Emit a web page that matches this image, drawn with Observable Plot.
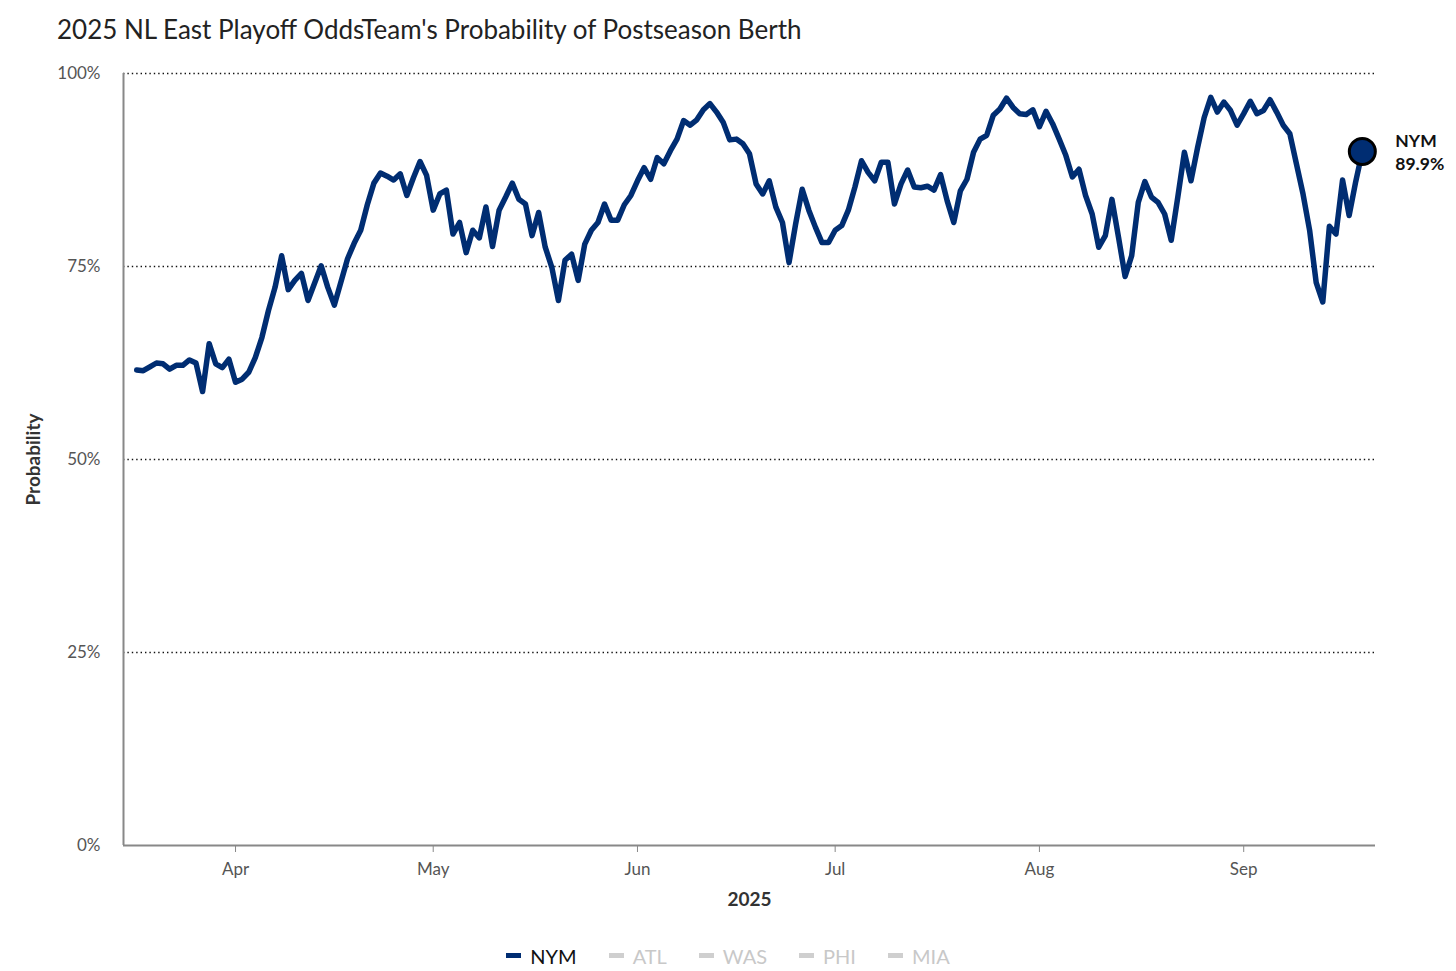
<!DOCTYPE html>
<html>
<head>
<meta charset="utf-8">
<script src="https://cdn.jsdelivr.net/npm/d3@7"></script>
<script src="https://cdn.jsdelivr.net/npm/@observablehq/plot@0.6"></script>
<style>
  html, body { margin: 0; padding: 0; background: #fff; }
  body { width: 1456px; height: 971px; overflow: hidden; font-family: Lato, "Noto Sans", sans-serif; }
  #title { height: 50px; box-sizing: border-box; padding: 14px 0 0 57px; font-size: 26px; line-height: 30px; color: #222; white-space: nowrap; }
  #chart svg { display: block; }
  #legend { height: 41px; box-sizing: border-box; padding-top: 10px; display: flex; justify-content: center; align-items: center; gap: 32px; font-size: 20px; line-height: 22px; }
  .item { display: flex; align-items: center; gap: 9px; }
  .sw { width: 15px; height: 5px; display: inline-block; }
</style>
</head>
<body>
<div id="title">2025 NL East Playoff OddsTeam's Probability of Postseason Berth</div>
<div id="chart"></div>
<div id="legend"></div>
<script>
// ---- data ----
const titleText = "2025 NL East Playoff OddsTeam's Probability of Postseason Berth";
const teams = ["NYM", "ATL", "WAS", "PHI", "MIA"];
const activeTeam = "NYM";
const teamColor = "#002D72";
const yTicks = [0, 25, 50, 75, 100];
const xTickDates = ["2025-04-01", "2025-05-01", "2025-06-01", "2025-07-01", "2025-08-01", "2025-09-01"];
const xDomain = ["2025-03-15", "2025-09-21"];

const nymDates = [
  "2025-03-17","2025-03-18","2025-03-19","2025-03-20","2025-03-21","2025-03-22","2025-03-23","2025-03-24","2025-03-25","2025-03-26","2025-03-27","2025-03-28","2025-03-29","2025-03-30","2025-03-31",
  "2025-04-01","2025-04-02","2025-04-03","2025-04-04","2025-04-05","2025-04-06","2025-04-07","2025-04-08","2025-04-09","2025-04-10","2025-04-11","2025-04-12","2025-04-14","2025-04-15","2025-04-16","2025-04-18","2025-04-19","2025-04-20","2025-04-21","2025-04-22","2025-04-23","2025-04-24","2025-04-25","2025-04-26","2025-04-27","2025-04-28","2025-04-29","2025-04-30",
  "2025-05-01","2025-05-02","2025-05-03","2025-05-04","2025-05-05","2025-05-06","2025-05-07","2025-05-08","2025-05-09","2025-05-10","2025-05-11","2025-05-12","2025-05-13","2025-05-14","2025-05-15","2025-05-16","2025-05-17","2025-05-18","2025-05-19","2025-05-20","2025-05-21","2025-05-22","2025-05-23","2025-05-24","2025-05-25","2025-05-26","2025-05-27","2025-05-28","2025-05-29","2025-05-30","2025-05-31",
  "2025-06-01","2025-06-02","2025-06-03","2025-06-04","2025-06-05","2025-06-06","2025-06-07","2025-06-08","2025-06-09","2025-06-10","2025-06-11","2025-06-12","2025-06-13","2025-06-14","2025-06-15","2025-06-16","2025-06-17","2025-06-18","2025-06-19","2025-06-20","2025-06-21","2025-06-22","2025-06-23","2025-06-24","2025-06-25","2025-06-26","2025-06-27","2025-06-28","2025-06-29","2025-06-30",
  "2025-07-01","2025-07-02","2025-07-03","2025-07-04","2025-07-05","2025-07-06","2025-07-07","2025-07-08","2025-07-09","2025-07-10","2025-07-11","2025-07-12","2025-07-13","2025-07-14","2025-07-15","2025-07-16","2025-07-17","2025-07-18","2025-07-19","2025-07-20","2025-07-21","2025-07-22","2025-07-23","2025-07-24","2025-07-25","2025-07-26","2025-07-27","2025-07-28","2025-07-29","2025-07-30","2025-07-31",
  "2025-08-01","2025-08-02","2025-08-03","2025-08-04","2025-08-05","2025-08-06","2025-08-07","2025-08-08","2025-08-09","2025-08-10","2025-08-11","2025-08-12","2025-08-13","2025-08-14","2025-08-15","2025-08-16","2025-08-17","2025-08-18","2025-08-19","2025-08-20","2025-08-21","2025-08-22","2025-08-23","2025-08-24","2025-08-25","2025-08-26","2025-08-27","2025-08-28","2025-08-29","2025-08-30","2025-08-31",
  "2025-09-01","2025-09-02","2025-09-03","2025-09-04","2025-09-05","2025-09-06","2025-09-07","2025-09-08","2025-09-09","2025-09-10","2025-09-11","2025-09-12","2025-09-13","2025-09-14","2025-09-15","2025-09-16","2025-09-17","2025-09-18","2025-09-19"
];
const nymValues = [
  61.6,61.5,62.0,62.5,62.4,61.7,62.2,62.2,62.9,62.5,58.8,65.0,62.4,61.9,63.0,
  60.0,60.4,61.3,63.2,65.8,69.3,72.3,76.4,72.0,73.2,74.1,70.6,75.1,72.3,70.0,76.0,78.0,79.7,83.0,85.8,87.1,86.7,86.2,87.0,84.2,86.5,88.6,86.8,
  82.3,84.4,84.9,79.2,80.7,76.8,79.7,78.7,82.7,77.6,82.3,84.0,85.8,83.7,83.1,79.0,82.0,77.5,74.9,70.6,75.8,76.6,73.2,77.9,79.7,80.7,83.1,81.0,81.0,83.0,84.2,
  86.1,87.8,86.3,89.1,88.3,90.0,91.5,93.9,93.3,94.0,95.3,96.1,95.0,93.7,91.4,91.5,90.9,89.6,85.7,84.4,86.1,82.7,80.7,75.5,80.5,85.0,82.3,80.1,78.1,78.1,
  79.7,80.3,82.3,85.3,88.7,87.2,86.1,88.5,88.5,83.1,85.7,87.5,85.3,85.2,85.4,84.9,86.9,83.5,80.7,84.8,86.3,89.8,91.5,92.0,94.6,95.4,96.8,95.6,94.8,94.7,95.3,
  93.1,95.1,93.5,91.5,89.4,86.6,87.6,84.2,81.8,77.5,79.0,83.7,78.8,73.7,76.4,83.3,86.0,84.0,83.3,81.8,78.4,84.0,89.8,86.1,90.4,94.3,96.9,95.0,96.3,95.2,93.3,
  94.8,96.4,94.8,95.2,96.6,95.0,93.3,92.2,88.3,84.4,79.7,72.9,70.4,80.2,79.2,86.2,81.6,86.0,89.9
];

// ---- build ----
const data = nymDates.map((d, i) => ({date: new Date(d), value: nymValues[i], team: activeTeam}));
const last = data[data.length - 1];
const xMin = new Date(xDomain[0]);

const chart = Plot.plot({
  width: 1456,
  height: 880,
  marginLeft: 123,
  marginRight: 81,
  marginTop: 23,
  marginBottom: 85,
  style: {fontFamily: "Lato, 'Noto Sans', sans-serif", fontSize: "17px", color: "#555", background: "#fff"},
  x: {type: "utc", domain: xDomain.map(d => new Date(d))},
  y: {domain: [0, 100]},
  marks: [
    Plot.ruleY(yTicks.filter(d => d > 0), {stroke: "#111", strokeWidth: 1.4, strokeDasharray: "1.4,3"}),
    Plot.ruleY([0], {stroke: "#888", strokeWidth: 2}),
    Plot.ruleX([xMin], {stroke: "#888", strokeWidth: 2}),
    Plot.axisY({ticks: yTicks, tickFormat: d => d + "%", tickSize: 0, tickPadding: 23, label: null, fill: "#555", fontSize: 17}),
    Plot.axisX({ticks: xTickDates.map(d => new Date(d)), tickFormat: d3.utcFormat("%b"), tickSize: 7, tickPadding: 10, stroke: "#888", fill: "#555", label: null, fontSize: 17}),
    Plot.text(["Probability"], {frameAnchor: "left", textAnchor: "middle", text: d => d, rotate: -90, dx: -90, fontWeight: "bold", fontSize: 19, fill: "#333"}),
    Plot.text(["2025"], {frameAnchor: "bottom", textAnchor: "middle", text: d => d, dy: 60, fontWeight: "bold", fontSize: 19, fill: "#333"}),
    Plot.line(data, {x: "date", y: "value", stroke: teamColor, strokeWidth: 5.5, strokeLinejoin: "round", strokeLinecap: "round"}),
    Plot.dot([last], {x: "date", y: "value", r: 13, fill: teamColor, stroke: "#000", strokeWidth: 3}),
    Plot.text([last], {x: "date", y: "value", text: d => d.team + "\n" + d.value.toFixed(1) + "%", dx: 33, textAnchor: "start", lineAnchor: "middle", lineHeight: 1.3, fontWeight: "bold", fontSize: 17.5, fill: "#111"})
  ]
});
document.getElementById("chart").appendChild(chart);

const legend = document.getElementById("legend");
teams.forEach(t => {
  const on = t === activeTeam;
  const item = document.createElement("div");
  item.className = "item";
  const sw = document.createElement("span");
  sw.className = "sw";
  sw.style.background = on ? teamColor : "#cfcfcf";
  const lab = document.createElement("span");
  lab.textContent = t;
  lab.style.color = on ? "#111" : "#c8c8c8";
  item.appendChild(sw);
  item.appendChild(lab);
  legend.appendChild(item);
});
</script>
</body>
</html>
